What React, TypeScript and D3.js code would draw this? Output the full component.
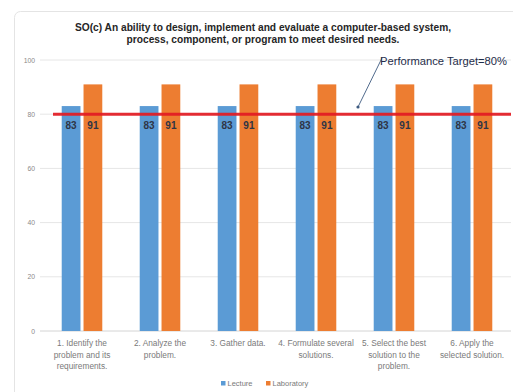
import React from "react";
import * as d3 from "d3";

const categories = [
  ["1. Identify the", "problem and its", "requirements."],
  ["2. Analyze the", "problem."],
  ["3. Gather data."],
  ["4. Formulate several", "solutions."],
  ["5. Select the best", "solution to the", "problem."],
  ["6. Apply the", "selected solution."],
];
const seriesNames = ["Lecture", "Laboratory"];
const lectureValues = [83, 83, 83, 83, 83, 83];
const laboratoryValues = [91, 91, 91, 91, 91, 91];
const yTicks = [0, 20, 40, 60, 80, 100];
const target = 80;
const titleLines = [
  "SO(c) An ability to design, implement and evaluate a computer-based system,",
  "process, component, or program to meet desired needs.",
];

const colors = ["#5b9bd5", "#ed7d31"];
const W = 513;
const H = 392;

export default function App() {
  const keys = categories.map((_, i) => String(i));
  const x = d3.scaleBand().domain(keys).range([43, 511]).paddingInner(0.48).paddingOuter(0.24);
  const inner = d3.scaleBand().domain(seriesNames).range([0, x.bandwidth()]).paddingInner(0.14);
  const y = d3.scaleLinear().domain([0, 100]).range([331, 60]);
  const values = [lectureValues, laboratoryValues];
  const font = "'Liberation Sans', Arial, sans-serif";
  const legendX = [221, 266];

  return (
    <svg width={W} height={H} style={{ position: "absolute", left: 0, top: 0, background: "#fff" }} fontFamily={font}>
      <rect x={14.5} y={11.5} width={510} height={390} rx={6} fill="#fff" stroke="#e4e4e4" />
      {titleLines.map((t, i) => (
        <text key={i} x={263} y={31 + i * 12} textAnchor="middle" fontSize={10.2} fontWeight="bold" fill="#262626">
          {t}
        </text>
      ))}
      {yTicks.map((t) => (
        <g key={t}>
          {t > 0 && <line x1={40} x2={511} y1={y(t)} y2={y(t)} stroke="#e6e6e6" />}
          <text x={35} y={y(t) + 2.5} textAnchor="end" fontSize={6.8} fill="#8a8a8a">
            {t}
          </text>
        </g>
      ))}
      <line x1={40} x2={511} y1={y(0)} y2={y(0)} stroke="#d4d4d4" />
      {keys.map((k, i) => (
        <g key={k} transform={`translate(${x(k)},0)`}>
          {seriesNames.map((s, j) => (
            <rect
              key={s}
              x={inner(s)}
              y={y(values[j][i])}
              width={inner.bandwidth()}
              height={y(0) - y(values[j][i])}
              fill={colors[j]}
            />
          ))}
        </g>
      ))}
      <line x1={53} x2={511} y1={y(target)} y2={y(target)} stroke="#e31b23" strokeWidth={3} opacity={0.92} />
      {keys.map((k, i) => (
        <g key={"l" + k} transform={`translate(${x(k)},0)`}>
          {seriesNames.map((s, j) => (
            <text
              key={s}
              x={(inner(s) as number) + inner.bandwidth() / 2}
              y={y(target) + 15}
              textAnchor="middle"
              fontSize={10}
              fontWeight="bold"
              fill="#2f3545"
            >
              {values[j][i]}
            </text>
          ))}
          {categories[i].map((line, li) => (
            <text
              key={li}
              x={x.bandwidth() / 2}
              y={346 + li * 11.5}
              textAnchor="middle"
              fontSize={8.3}
              fill="#7a7a7a"
            >
              {line}
            </text>
          ))}
        </g>
      ))}
      <line x1={382} y1={58} x2={358} y2={107} stroke="#3d5a80" strokeWidth={0.9} />
      <circle cx={358} cy={107} r={1.6} fill="#3d5a80" />
      <text x={380} y={65} fontSize={11.2} fill="#1f2d4a">
        Performance Target=80%
      </text>
      {seriesNames.map((s, j) => (
        <g key={s}>
          <rect x={legendX[j]} y={381} width={4.5} height={4.5} fill={colors[j]} />
          <text x={legendX[j] + 6.5} y={386} fontSize={7.5} fill="#7a7a7a">
            {s}
          </text>
        </g>
      ))}
    </svg>
  );
}
